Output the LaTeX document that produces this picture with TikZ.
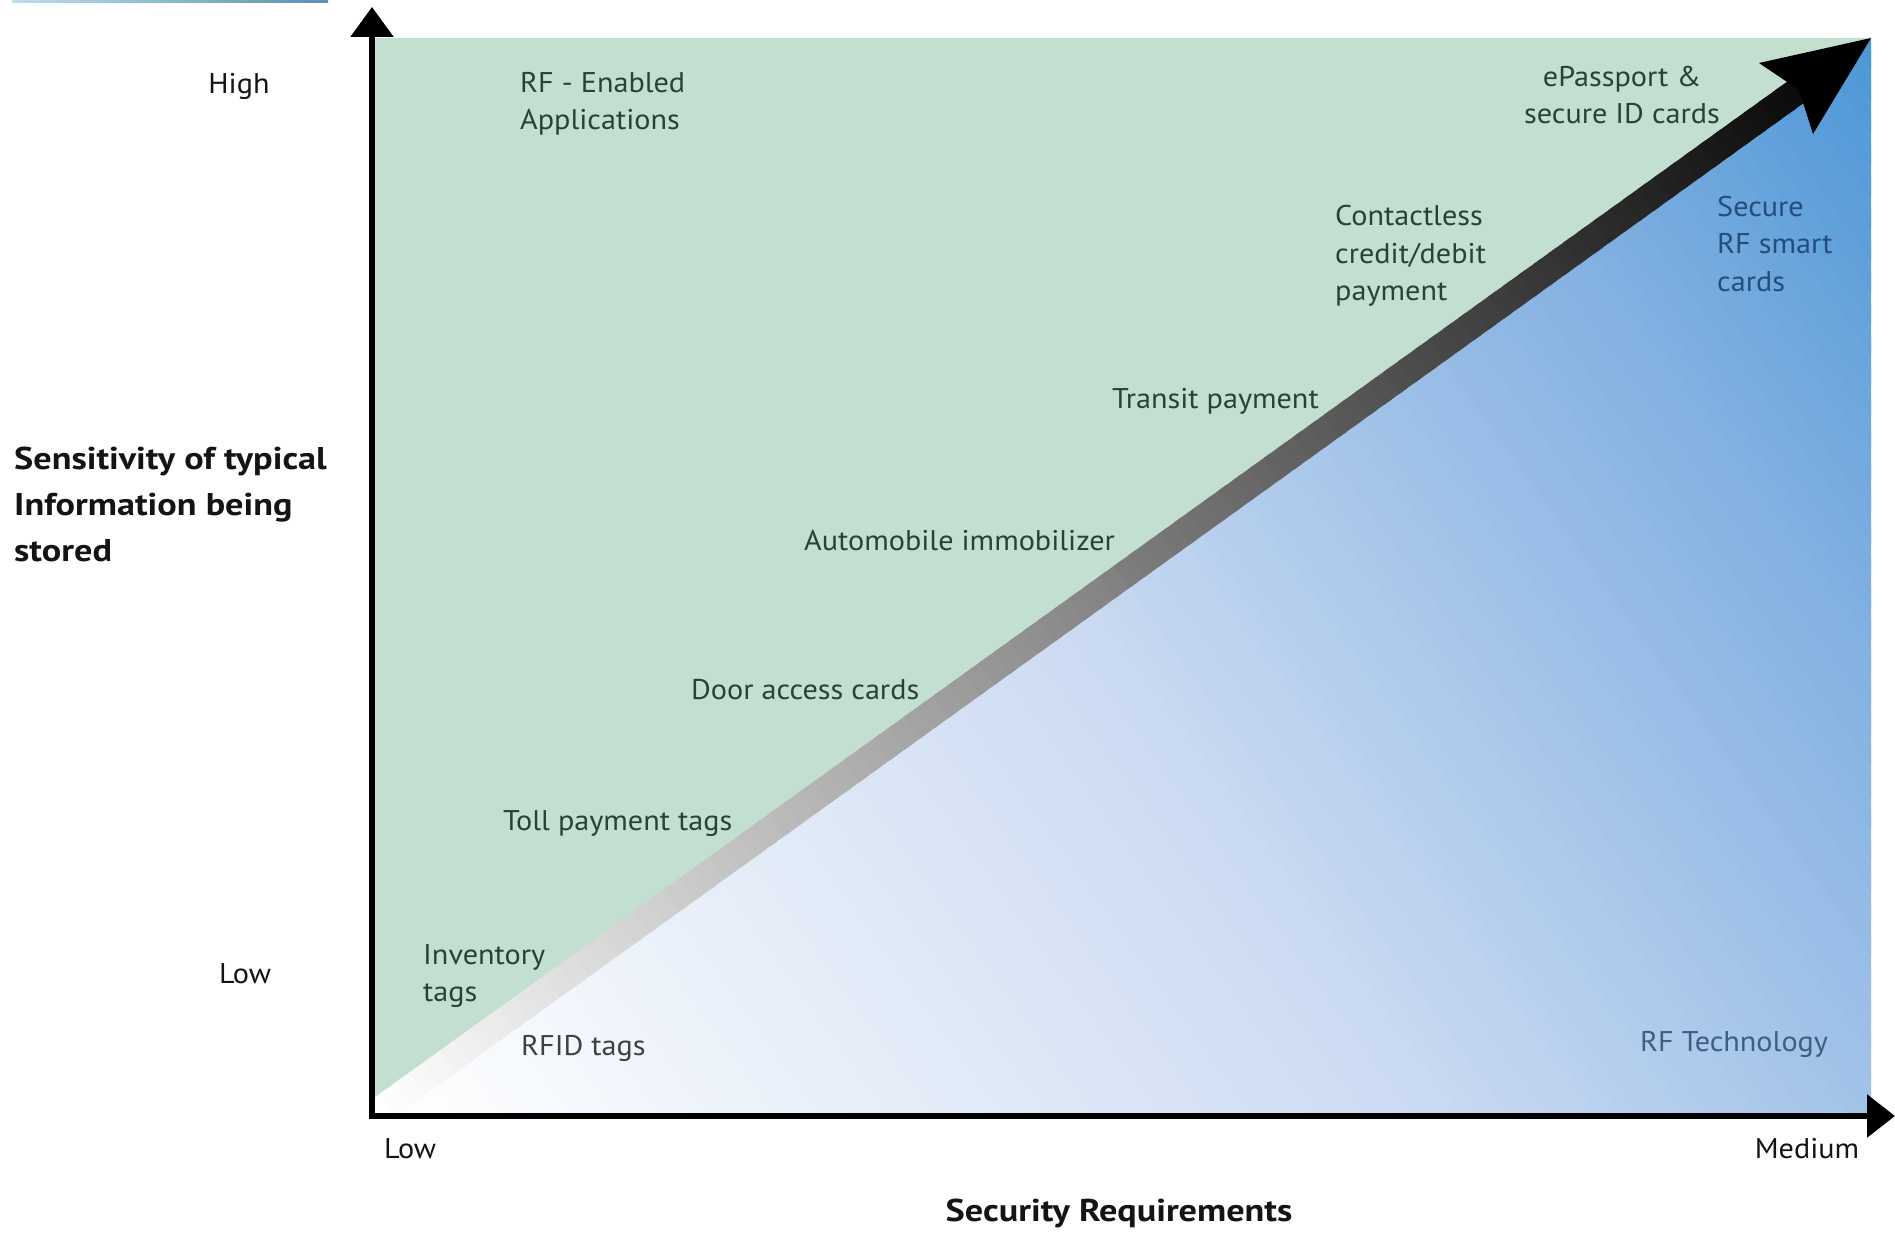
\documentclass[tikz,border=0pt]{standalone}
\usepackage{fontspec}
\setmainfont{PT Sans}[FakeStretch=1.06]
\newfontfamily\titlefont{PT Sans}[FakeStretch=1.15]
\usetikzlibrary{calc,arrows.meta}
\definecolor{bggreen}{HTML}{C3DFD0}
\definecolor{cA}{HTML}{CCDBF2}
\definecolor{cB}{HTML}{7EAEE0}
\definecolor{cC}{HTML}{4A96D6}
\definecolor{labgreen}{HTML}{2A4236}
\definecolor{labblue}{HTML}{234E7C}
\definecolor{labtech}{HTML}{3F5E85}
\definecolor{axtext}{HTML}{141414}
\definecolor{barL}{HTML}{B8E0EE}
\definecolor{barR}{HTML}{5E8FB0}
\begin{document}
\begin{tikzpicture}[x=1pt,y=-1pt,
  lbl/.style={font=\fontsize{28.5}{37.5}\selectfont, text=labgreen, anchor=west, align=left, inner sep=0pt},
  axlbl/.style={font=\fontsize{28.5}{37.5}\selectfont, text=axtext, inner sep=0pt},
  title/.style={font=\titlefont\bfseries\fontsize{31.5}{46}\selectfont, text=axtext, inner sep=0pt}]
\useasboundingbox (0,0) rectangle (1895,1233);
% top bar
\shade[left color=barL, right color=barR] (12,0) rectangle (328,3);
% key coordinates
\coordinate (O) at (372,1116);
\coordinate (T) at (1871,38);
\coordinate (TL) at (372,38);
\coordinate (BR) at (1871,1116);
% green region
\fill[bggreen] (O) -- (TL) -- (T) -- cycle;
% blue gradient region
\begin{scope}
  \clip (O) -- (T) -- (BR) -- cycle;
  \foreach \i in {0,...,101}{
    \pgfmathsetmacro\ta{\i/100}
    \pgfmathsetmacro\tb{(\i+1.6)/100}
    \ifnum\i<45
      \pgfmathtruncatemacro\p{\i/45*100}
      \colorlet{cur}{cA!\p!white}
    \else\ifnum\i<82
      \pgfmathtruncatemacro\p{(\i-45)/37*100}
      \colorlet{cur}{cB!\p!cA}
    \else
      \pgfmathtruncatemacro\p{min(100,(\i-82)/18*100)}
      \colorlet{cur}{cC!\p!cB}
    \fi\fi
    \fill[cur] ($(O)!\ta!(T)-(1078,1498)$) -- ($(O)!\tb!(T)-(1078,1498)$) -- ($(O)!\tb!(T)+(1078,1498)$) -- ($(O)!\ta!(T)+(1078,1498)$) -- cycle;
  }
\end{scope}
% diagonal arrow shaft
\begin{scope}
  \clip (O) rectangle (T);
  \foreach \i in {0,...,95}{
    \pgfmathsetmacro\ta{\i/100}
    \pgfmathsetmacro\tb{(\i+1.5)/100}
    \pgfmathtruncatemacro\g{min(100,\i*1.02)}
    \draw[line width=27pt, black!\g!white] ($(O)!\ta!(T)$) -- ($(O)!\tb!(T)$);
  }
\end{scope}
% arrow head
\coordinate (W1) at (1759,63);
\coordinate (W2) at (1813,134);
\coordinate (Hn) at (1799,90);
\fill[black] (T) -- (W1) -- (Hn) -- (W2) -- cycle;
% axes
\coordinate (Ytop) at (372,7);
\coordinate (Xend) at (1895,1116);
\coordinate (Ostart) at (372,1119);
\coordinate (Oleft) at (369,1116);
\draw[line width=6pt, -{Triangle[length=30pt,width=42pt]}] (Ostart) -- (Ytop);
\draw[line width=6pt, -{Triangle[length=28pt,width=42pt]}] (Oleft) -- (Xend);
% axis labels
\node[axlbl] (high) at (239,86) {High};
\node[axlbl] (lowy) at (245,974) {Low};
\node[axlbl, anchor=west] (lowx) at (384,1149) {Low};
\node[axlbl] (medium) at (1807,1149) {Medium};
\node[title, anchor=west, align=left] (ytitle) at (14,504) {Sensitivity of typical\\Information being\\stored};
\node[title] (xtitle) at (1119,1213) {Security Requirements};
% region labels
\node[lbl] (rfapp) at (520,104) {RF - Enabled\\Applications};
\node[lbl, anchor=center, align=center] (epass) at (1622,95) {ePassport \&\\secure ID cards};
\node[lbl, text=labblue] (secure) at (1717,244) {Secure\\RF smart\\cards};
\node[lbl] (contact) at (1335,256) {Contactless\\credit/debit\\payment};
\node[lbl] (transit) at (1112,401) {Transit payment};
\node[lbl] (auto) at (804,541) {Automobile immobilizer};
\node[lbl] (door) at (691,690) {Door access cards};
\node[lbl] (toll) at (503,824) {Toll payment tags};
\node[lbl] (inv) at (423,976) {Inventory\\tags};
\node[lbl, text=black!75] (rfid) at (521,1048) {RFID tags};
\node[lbl, text=labtech] (rftech) at (1640,1044) {RF Technology};
\end{tikzpicture}
\end{document}
